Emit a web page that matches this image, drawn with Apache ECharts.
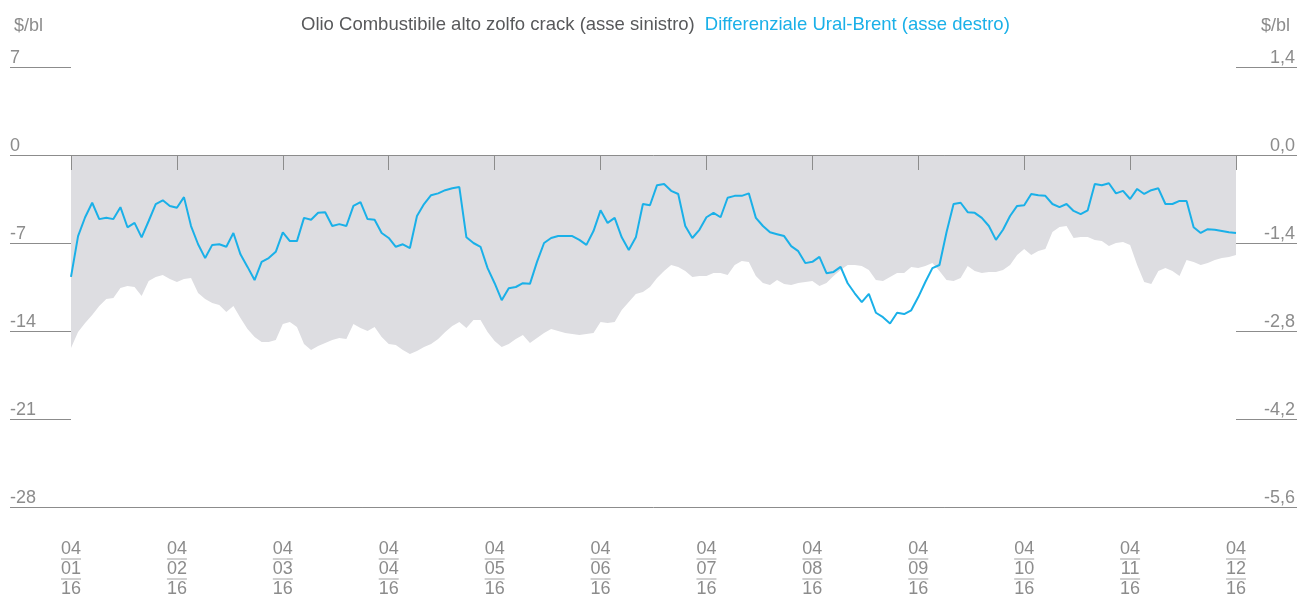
<!DOCTYPE html>
<html>
<head>
<meta charset="utf-8">
<script src="https://cdn.jsdelivr.net/npm/echarts@6/dist/echarts.min.js"></script>
<style>
  html, body { margin: 0; padding: 0; background: #fff; }
  #main { width: 1297px; height: 597px; }
</style>
</head>
<body>
<div id="main"></div>
<script>
// mesi mostrati sull'asse (giorno 04 di ogni mese, anno 16)
var mesi = ['01', '02', '03', '04', '05', '06', '07', '08', '09', '10', '11', '12'];
var puntiPerMese = 15;

// Olio Combustibile alto zolfo crack ($/bl, asse sinistro)
var crackOlio = [
  -15.35, -14.08, -13.36, -12.73, -12.01, -11.45, -11.38, -10.58, -10.42, -10.50, -11.22, -10.02, -9.70, -9.55, -9.86,
  -10.10, -9.86, -9.78, -10.98, -11.45, -11.77, -11.93, -12.49, -12.01, -12.97, -13.84, -14.48, -14.88, -14.88, -14.72,
  -13.44, -13.28, -13.68, -15.03, -15.51, -15.19, -14.95, -14.72, -14.56, -14.64, -13.44, -13.76, -14.00, -13.68, -14.48,
  -15.03, -15.11, -15.51, -15.83, -15.59, -15.27, -15.03, -14.64, -14.08, -13.60, -13.28, -13.76, -13.13, -13.13, -14.08,
  -14.80, -15.27, -15.03, -14.64, -14.32, -14.95, -14.56, -14.16, -13.84, -14.00, -14.16, -14.24, -14.32, -14.24, -14.16,
  -13.28, -13.36, -13.28, -12.33, -11.69, -11.06, -10.90, -10.50, -9.78, -9.23, -8.75, -8.91, -9.23, -9.70, -9.63,
  -9.63, -9.39, -9.39, -9.55, -8.75, -8.43, -8.51, -9.63, -10.18, -10.34, -9.94, -10.26, -10.34, -10.18, -10.10,
  -10.02, -10.42, -10.18, -9.63, -9.15, -8.75, -8.75, -8.83, -9.15, -9.94, -10.02, -9.70, -9.39, -9.39, -8.91,
  -8.99, -8.83, -8.59, -9.23, -9.94, -10.02, -9.78, -8.83, -9.23, -9.39, -9.31, -9.31, -9.15, -8.75, -7.95,
  -7.48, -7.95, -7.64, -7.48, -6.13, -5.73, -5.65, -6.60, -6.52, -6.52, -6.76, -6.84, -7.24, -7.00, -6.92,
  -7.16, -8.75, -10.10, -10.26, -9.23, -8.99, -9.23, -9.63, -8.35, -8.51, -8.75, -8.59, -8.35, -8.19, -8.11,
  -7.95
];

// Differenziale Ural-Brent ($/bl, asse destro)
var diffUralBrent = [
  -1.94, -1.29, -0.99, -0.76, -1.02, -1.00, -1.02, -0.83, -1.15, -1.08, -1.31, -1.05, -0.78, -0.72, -0.81,
  -0.84, -0.67, -1.13, -1.42, -1.64, -1.43, -1.42, -1.46, -1.24, -1.58, -1.78, -1.99, -1.70, -1.64, -1.54,
  -1.23, -1.37, -1.37, -1.00, -1.03, -0.92, -0.91, -1.13, -1.10, -1.13, -0.81, -0.75, -1.02, -1.03, -1.24,
  -1.32, -1.46, -1.42, -1.48, -0.97, -0.78, -0.64, -0.61, -0.56, -0.53, -0.51, -1.31, -1.40, -1.46, -1.80,
  -2.04, -2.31, -2.12, -2.10, -2.04, -2.05, -1.70, -1.40, -1.32, -1.29, -1.29, -1.29, -1.35, -1.43, -1.21,
  -0.88, -1.08, -1.00, -1.31, -1.51, -1.31, -0.78, -0.80, -0.48, -0.46, -0.57, -0.62, -1.13, -1.32, -1.19,
  -0.99, -0.92, -0.99, -0.68, -0.65, -0.65, -0.61, -1.00, -1.13, -1.23, -1.26, -1.29, -1.45, -1.53, -1.72,
  -1.70, -1.62, -1.88, -1.86, -1.78, -2.04, -2.20, -2.34, -2.21, -2.51, -2.58, -2.68, -2.51, -2.53, -2.47,
  -2.26, -2.02, -1.80, -1.75, -1.23, -0.78, -0.76, -0.91, -0.92, -1.00, -1.13, -1.35, -1.19, -0.97, -0.81,
  -0.80, -0.62, -0.64, -0.65, -0.78, -0.83, -0.78, -0.89, -0.94, -0.88, -0.46, -0.48, -0.45, -0.61, -0.57,
  -0.70, -0.54, -0.62, -0.56, -0.53, -0.78, -0.78, -0.73, -0.73, -1.15, -1.24, -1.18, -1.19, -1.21, -1.23,
  -1.24
];

// categorie: il primo punto di ogni mese porta la data 04/MM/16
var categorie = [];
for (var m = 0; m < mesi.length - 1; m++) {
    for (var k = 0; k < puntiPerMese; k++) {
        categorie.push(k === 0 ? '04/' + mesi[m] + '/16' : mesi[m] + '-' + k);
    }
}
categorie.push('04/' + mesi[mesi.length - 1] + '/16');

var grigio = '#8c8c8c';
var font = '"Liberation Sans", Helvetica, Arial, sans-serif';
var blu = '#1ab0e8';

function inizioMese(idx) {
    return idx % puntiPerMese === 0;
}

var myChart = echarts.init(document.getElementById('main'));

var option = {
    animation: false,
    title: [{
        text: '{a|Olio Combustibile alto zolfo crack (asse sinistro)}  {b|Differenziale Ural-Brent (asse destro)}',
        left: 296,
        top: 10,
        textStyle: {
            fontWeight: 'normal',
            rich: {
                a: { color: '#58595b', fontSize: 18.5, fontWeight: 'normal', fontFamily: font },
                b: { color: blu, fontSize: 18.5, fontWeight: 'normal', fontFamily: font }
            }
        }
    }, {
        text: '$/bl',
        left: 9,
        top: 12,
        textStyle: { color: grigio, fontSize: 18, fontWeight: 'normal', fontFamily: font }
    }, {
        text: '$/bl',
        right: 2,
        top: 12,
        textStyle: { color: grigio, fontSize: 18, fontWeight: 'normal', fontFamily: font }
    }],
    grid: {
        left: 71,
        right: 61,
        top: 67,
        bottom: 90,
        containLabel: false,
        outerBoundsMode: 'none'
    },
    xAxis: [{
        // asse sullo zero con le tacche dei mesi
        type: 'category',
        data: categorie,
        boundaryGap: false,
        position: 'bottom',
        z: 10,
        axisLine: { onZero: true, lineStyle: { color: grigio, width: 1 } },
        axisTick: {
            show: true,
            interval: inizioMese,
            length: 15,
            lineStyle: { color: grigio }
        },
        axisLabel: { show: false },
        splitLine: { show: false }
    }, {
        // asse in basso con le date
        type: 'category',
        data: categorie,
        boundaryGap: false,
        position: 'bottom',
        axisLine: { onZero: false, lineStyle: { color: grigio, width: 1 } },
        axisTick: { show: false },
        axisLabel: {
            interval: inizioMese,
            margin: 33,
            formatter: function (value) {
                var p = value.split('/');
                return '{n|' + p[0] + '}\n{l| }\n{n|' + p[1] + '}\n{l| }\n{n|' + p[2] + '}';
            },
            rich: {
                n: { color: grigio, fontSize: 18, lineHeight: 18, fontFamily: font, align: 'center' },
                l: { width: 20, height: 1, lineHeight: 2, fontSize: 1, backgroundColor: '#a0a0a0', align: 'center' }
            }
        },
        splitLine: { show: false }
    }],
    yAxis: [{
        type: 'value',
        position: 'left',
        min: -28,
        max: 7,
        interval: 7,
        axisLine: { show: false },
        splitLine: { show: false },
        axisTick: { show: true, length: 61, lineStyle: { color: grigio } },
        axisLabel: {
            align: 'left',
            verticalAlign: 'bottom',
            margin: 61,
            color: grigio,
            fontSize: 18,
            fontFamily: font
        }
    }, {
        type: 'value',
        position: 'right',
        min: -5.6,
        max: 1.4,
        interval: 1.4,
        axisLine: { show: false },
        splitLine: { show: false },
        axisTick: { show: true, length: 61, lineStyle: { color: grigio } },
        axisLabel: {
            align: 'right',
            verticalAlign: 'bottom',
            margin: 59,
            color: grigio,
            fontSize: 18,
            fontFamily: font,
            formatter: function (v) {
                return v.toFixed(1).replace('.', ',').replace('-0,0', '0,0');
            }
        }
    }],
    series: [{
        name: 'Olio Combustibile alto zolfo crack',
        type: 'line',
        xAxisIndex: 0,
        yAxisIndex: 0,
        data: crackOlio,
        symbol: 'none',
        lineStyle: { width: 0 },
        areaStyle: { color: '#dddde1', opacity: 1 },
        z: 2
    }, {
        name: 'Differenziale Ural-Brent',
        type: 'line',
        xAxisIndex: 0,
        yAxisIndex: 1,
        data: diffUralBrent,
        symbol: 'none',
        lineStyle: { width: 2, color: blu },
        itemStyle: { color: blu },
        z: 3
    }]
};

myChart.setOption(option);
</script>
</body>
</html>
